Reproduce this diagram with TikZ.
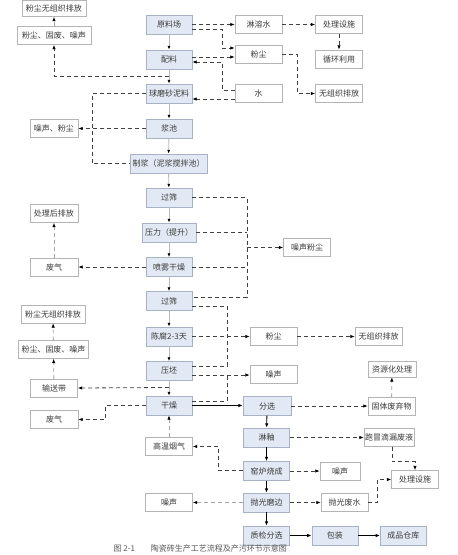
\documentclass[tikz,border=0pt]{standalone}
\usepackage{fontspec}
\usepackage{tikz}
\usetikzlibrary{positioning}
\usetikzlibrary{calc}
\usetikzlibrary{arrows.meta}
\newfontfamily\cjk{Noto Sans CJK SC}
\definecolor{procfill}{HTML}{E3E9F4}
\definecolor{procdraw}{HTML}{A7B2C4}
\definecolor{notedraw}{HTML}{B4B4B4}
\definecolor{txt}{HTML}{3A3A3A}

\begin{document}
\begin{tikzpicture} [
    x=1pt, y=-1pt,                 % pixel grid, y runs downwards
    ]
% -------------------------------------------------
\tikzset{
  base/.style={draw, align=center, inner sep=0pt, minimum height=19pt, text=txt, font=\cjk\fontsize{8pt}{9pt}\selectfont},
  proc/.style={base, fill=procfill, draw=procdraw, minimum width=46pt},
  note/.style={base, fill=white, draw=notedraw, minimum width=47pt, minimum height=18pt},
  flow/.style={draw=gray!55, line width=0.9pt, -{Latex[black,length=4pt,width=3pt]}},
  mainline/.style={draw=black, line width=0.9pt, -{Latex[length=4.5pt,width=3.5pt]}},
  link/.style={draw=black!75, line width=0.8pt, dash pattern=on 4pt off 3pt},
  line/.style={link, -{Latex[black,length=4.5pt,width=3.5pt]}},
  faint/.style={line, draw=gray!70},
}
    \useasboundingbox (0,0) rectangle (458,555);

    % process column
    \node [proc] (ylc) at (169,24.5) {原料场};
    \node [proc] (pl) at (169,59.5) {配料};
    \node [proc] (qm) at (169,93.5) {球磨砂泥料};
    \node [proc] (jc) at (169,128.5) {浆池};
    \node [proc, minimum width=77pt] (zj) at (168.5,163.5) {制浆（泥浆搅拌池）};
    \node [proc] (gs1) at (169,197.5) {过筛};
    \node [proc, minimum width=54pt] (yl) at (169,232.5) {压力（提升）};
    \node [proc] (pw) at (169,267) {喷雾干燥};
    \node [proc] (gs2) at (169,301) {过筛};
    \node [proc] (cf) at (169,336.5) {陈腐2-3天};
    \node [proc] (yp) at (169,371) {压坯};
    \node [proc] (gz) at (169,405.5) {干燥};
    \node [proc, minimum width=48pt] (fx) at (267,406) {分选};
    \node [proc] (ly) at (266.5,437.5) {淋釉};
    \node [proc] (yls) at (266.5,471) {窑炉烧成};
    \node [proc] (pg) at (266.5,502.5) {抛光磨边};
    \node [proc] (zx) at (266.5,535.5) {质检分选};
    \node [proc, right=22pt of zx] (bz) {包装};
    \node [proc, right=22pt of bz] (cp) {成品仓库};

    % emissions and side boxes
    \node [note, minimum width=64pt, minimum height=16pt] (top1) at (54,8.5) {粉尘无组织排放};
    \node [note, minimum width=74pt] (top2) at (54,35.5) {粉尘、固废、噪声};
    \node [note] (ylrs) at (258.5,24.5) {淋溶水};
    \node [note] (clss1) at (339,24.5) {处理设施};
    \node [note] (xhly) at (339,59) {循环利用};
    \node [note] (fc1) at (258.5,54) {粉尘};
    \node [note] (shui) at (258.5,93.5) {水};
    \node [note] (wz1) at (339,93.5) {无组织排放};
    \node [note, minimum width=48pt] (zsfc) at (54,128.5) {噪声、粉尘};
    \node [note, minimum width=48pt] (clhp) at (54,213.5) {处理后排放};
    \node [note, minimum width=48pt] (fq1) at (54,267) {废气};
    \node [note] (zsfc2) at (307,247.5) {噪声粉尘};
    \node [note, minimum width=64pt] (top3) at (53,314) {粉尘无组织排放};
    \node [note, minimum width=70pt] (top4) at (53.5,349.5) {粉尘、固废、噪声};
    \node [note] (ssd) at (54,388) {输送带};
    \node [note, minimum width=48pt] (fq2) at (54,419.5) {废气};
    \node [note] (fc2) at (273.5,336.5) {粉尘};
    \node [note] (wz2) at (378.5,336.5) {无组织排放};
    \node [note] (zs1) at (273.5,374.5) {噪声};
    \node [note, minimum width=48pt, minimum height=16pt] (zyh) at (392,369) {资源化处理};
    \node [note] (gtfq) at (391.5,406) {固体废弃物};
    \node [note, minimum width=50pt] (pmdl) at (389,437.5) {跑冒滴漏废液};
    \node [note] (gwyq) at (169,446.5) {高温烟气};
    \node [note, minimum width=40pt] (zs2) at (340,471) {噪声};
    \node [note] (clss2) at (415,479.5) {处理设施};
    \node [note] (pgfs) at (344.5,502.5) {抛光废水};
    \node [note] (zs3) at (169,502.5) {噪声};

    \node [font=\cjk\fontsize{8pt}{9pt}\selectfont, text=black!65, anchor=west] (cap) at (110,548.5) {图 2-1\hspace{2em}陶瓷砖生产工艺流程及产污环节示意图};

    % bend columns for the dashed connectors
    \coordinate (c1) at (222,0);
    \coordinate (c2) at (297,0);
    \coordinate (c3) at (92,0);
    \coordinate (c4) at (247,0);
    \coordinate (c5) at (227,0);
    \coordinate (c6) at (105,0);
    \coordinate (c7) at (218,0);
    \coordinate (a1) at (169,76);
    \coordinate (a2) at (169,387.5);

    % main flow
    \path [flow] (ylc) -- (pl);
    \path [flow] (pl) -- (qm);
    \path [flow] (qm) -- (jc);
    \path [flow] (jc) -- (zj);
    \path [flow] (zj) -- (gs1);
    \path [flow] (gs1) -- (yl);
    \path [flow] (yl) -- (pw);
    \path [flow] (pw) -- (gs2);
    \path [flow] (gs2) -- (cf);
    \path [flow] (cf) -- (yp);
    \path [flow] (yp) -- (gz);
    \path [mainline] (gz.east) -- (gz.east -| fx.west);
    \path [mainline] (fx) -- (ly);
    \path [mainline] (ly) -- (yls);
    \path [mainline] (yls) -- (pg);
    \path [mainline] (pg) -- (zx);
    \path [mainline] (zx) -- (bz);
    \path [mainline] (bz) -- (cp);

    % raw materials and batching
    \path [line] (ylc) -- (ylrs);
    \path [line] ([yshift=-4.5pt]ylc.east) -- ([yshift=-4.5pt]ylc.east -| c1) |- ([yshift=6pt]fc1.west);
    \path [line] ([yshift=2.5pt]pl.east) -- ([yshift=2.5pt]pl.east -| fc1.west);
    \path [line] ([yshift=3.5pt]shui.west) -- ([yshift=3.5pt]shui.west -| c1) |- ([yshift=-2.5pt]pl.east);
    \path [line] ([yshift=-5.5pt]shui.west) -- ([yshift=-5.5pt]shui.west -| qm.east);
    \path [line] (ylrs) -- (clss1);
    \path [line] (clss1) -- (xhly);
    \path [line] (fc1.east) -- (fc1.east -| c2) |- (wz1.west);
    \path [line] (a1) -| (top2.south);
    \path [faint] (top2) -- (top1);
    \path [link] (qm.west) -- (qm.west -| c3) |- (zj.west);
    \path [line] (jc) -- (zsfc);

    % spray drying
    \path [link] (gs1.east) -- (gs1.east -| c4) -- ([yshift=4pt]gs2.east -| c4) -- ([yshift=4pt]gs2.east);
    \path [link] (yl.east) -- (yl.east -| c4);
    \path [link] (pw.east) -- (pw.east -| c4);
    \path [line] (zsfc2.west -| c4) -- (zsfc2.west);
    \path [line] (pw) -- (fq1);
    \path [faint] (fq1) -- (clhp);

    % aging, pressing, drying
    \path [link] ([yshift=-5pt]gs2.east) -- ([yshift=-5pt]gs2.east -| c5) -- ([yshift=5pt]yp.east -| c5) -- ([yshift=5pt]yp.east);
    \path [line] (cf) -- (fc2);
    \path [line] (fc2) -- (wz2);
    \path [line] ([yshift=-4pt]yp.east) -- ([yshift=-4pt]yp.east -| zs1.west);
    \path [link] ([yshift=4.5pt]gz.east) -- ([yshift=4.5pt]gz.east -| c5) -- ([yshift=-4pt]yp.east -| c5);
    \path [line] (a2) -- (ssd.east);
    \path [faint] (ssd) -- (top4);
    \path [faint] (top4) -- (top3);
    \path [line] (gz.west) -- (gz.west -| c6) |- (fq2.east);
    \path [line] (fx) -- (gtfq);
    \path [faint] (gtfq) -- (zyh);

    % glazing, firing, polishing
    \path [faint] (gwyq) -- (gz);
    \path [line] ([yshift=1pt]yls.west) -- ([yshift=1pt]yls.west -| c7) |- (gwyq.east);
    \path [line] (ly) -- (pmdl);
    \path [line] ([xshift=3pt]pmdl.south) |- ([yshift=9pt]clss2.north) -- (clss2.north);
    \path [line] (yls) -- (zs2);
    \path [line] (pg) -- (pgfs);
    \path [line] (pgfs.east) -- ++(9,0) |- (clss2.west);
    \path [faint] (pg) -- (zs3);

\end{tikzpicture}
\end{document}
